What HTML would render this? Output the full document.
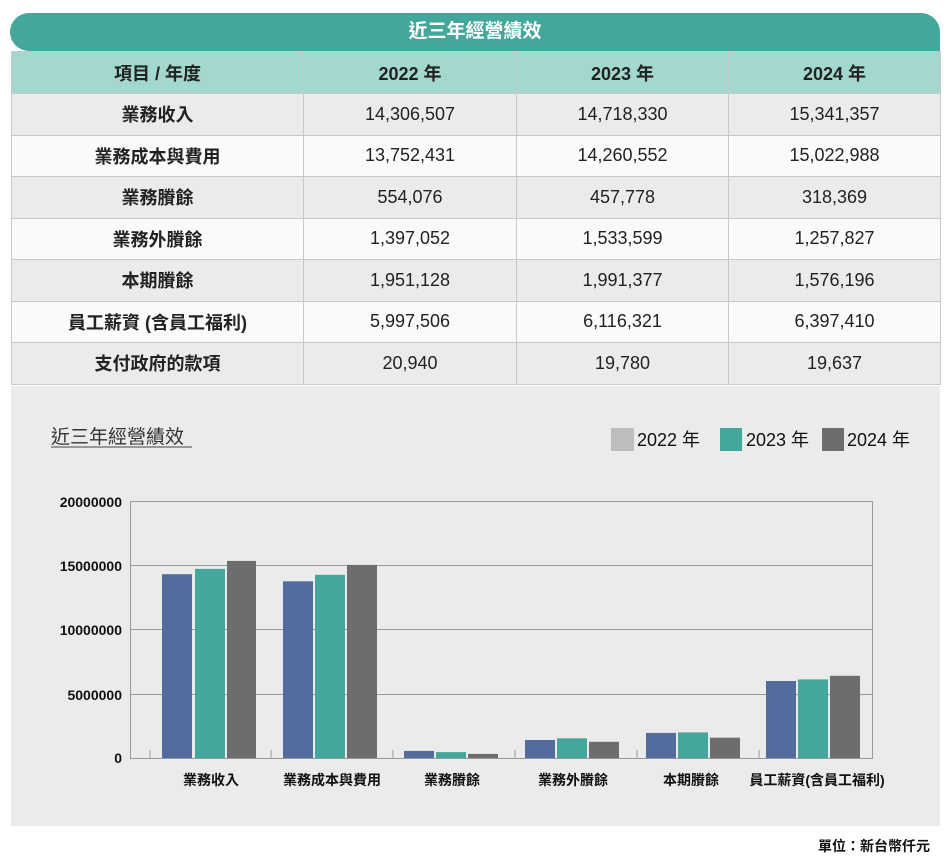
<!DOCTYPE html>
<html><head><meta charset="utf-8"><style>
body{margin:0;width:951px;height:862px;background:#fff;position:relative;font-family:"Liberation Sans","Noto Sans CJK TC",sans-serif;overflow:hidden}
.bar{position:absolute;left:10px;top:13px;width:930px;height:38px;background:#43a89b;border-radius:19px 19px 0 19px;color:#fff;font-size:19px;font-weight:bold;text-align:center;line-height:38px}
table{position:absolute;left:11px;top:51px;border-collapse:collapse;width:929px;table-layout:fixed}
td{border:1px solid #c8c8c8;text-align:center;font-size:18px;color:#222;height:40.5px;padding:0}
tr.h td{background:#a3d8d0;font-weight:bold;height:41px}
tr:nth-child(even) td{background:#ebebeb}
tr:nth-child(odd):not(.h) td{background:#f8fbfa}
td:first-child{font-weight:bold}
</style></head><body>
<div class="bar">近三年經營績效</div>
<table>
<col style="width:292px"><col style="width:213px"><col style="width:212px"><col style="width:212px">
<tr class="h"><td>項目 / 年度</td><td>2022 年</td><td>2023 年</td><td>2024 年</td></tr>
<tr><td>業務收入</td><td>14,306,507</td><td>14,718,330</td><td>15,341,357</td></tr>
<tr><td>業務成本與費用</td><td>13,752,431</td><td>14,260,552</td><td>15,022,988</td></tr>
<tr><td>業務賸餘</td><td>554,076</td><td>457,778</td><td>318,369</td></tr>
<tr><td>業務外賸餘</td><td>1,397,052</td><td>1,533,599</td><td>1,257,827</td></tr>
<tr><td>本期賸餘</td><td>1,951,128</td><td>1,991,377</td><td>1,576,196</td></tr>
<tr><td>員工薪資 (含員工福利)</td><td>5,997,506</td><td>6,116,321</td><td>6,397,410</td></tr>
<tr><td>支付政府的款項</td><td>20,940</td><td>19,780</td><td>19,637</td></tr>
</table>
<svg style="position:absolute;left:0;top:0" width="951" height="862" font-family="Liberation Sans, Noto Sans CJK TC, sans-serif">
<rect x="11" y="386" width="929" height="440" fill="#ebebeb"/>
<text x="51" y="443" font-size="19" fill="#333">近三年經營績效</text>
<line x1="51" y1="447" x2="192" y2="447" stroke="#444" stroke-width="1"/>
<rect x="611" y="428" width="23" height="23" fill="#bdbdbe"/><text x="637" y="446" font-size="18" fill="#111">2022 年</text>
<rect x="720" y="428" width="22" height="23" fill="#43a89b"/><text x="746" y="446" font-size="18" fill="#111">2023 年</text>
<rect x="822" y="428" width="22" height="23" fill="#6d6d6f"/><text x="847" y="446" font-size="18" fill="#111">2024 年</text>
<g stroke="#999" stroke-width="1">
<rect x="130.5" y="501.5" width="742" height="257" fill="none"/>
<line x1="130" y1="565.5" x2="873" y2="565.5"/><line x1="130" y1="629.5" x2="873" y2="629.5"/><line x1="130" y1="694.5" x2="873" y2="694.5"/>
<line x1="150" y1="750" x2="150" y2="758"/><line x1="271" y1="750" x2="271" y2="758"/><line x1="393" y1="750" x2="393" y2="758"/><line x1="515" y1="750" x2="515" y2="758"/><line x1="637" y1="750" x2="637" y2="758"/><line x1="759" y1="750" x2="759" y2="758"/>
</g>
<g font-size="14" fill="#111" text-anchor="end" font-weight="bold">
<text x="122" y="507">20000000</text><text x="122" y="571">15000000</text><text x="122" y="635">10000000</text><text x="122" y="700">5000000</text><text x="122" y="763">0</text>
</g>
<g>
<rect x="162" y="574.2" width="30" height="183.8" fill="#536c9e"/><rect x="195" y="568.9" width="30" height="189.1" fill="#43a89b"/><rect x="227" y="560.9" width="29" height="197.1" fill="#6d6d6f"/>
<rect x="283" y="581.3" width="30" height="176.7" fill="#536c9e"/><rect x="315" y="574.8" width="30" height="183.2" fill="#43a89b"/><rect x="347" y="564.9" width="30" height="193.1" fill="#6d6d6f"/>
<rect x="404" y="750.9" width="30" height="7.1" fill="#536c9e"/><rect x="436" y="752.1" width="30" height="5.9" fill="#43a89b"/><rect x="468" y="753.9" width="30" height="4.1" fill="#6d6d6f"/>
<rect x="525" y="740.0" width="30" height="18" fill="#536c9e"/><rect x="557" y="738.3" width="30" height="19.7" fill="#43a89b"/><rect x="589" y="741.8" width="30" height="16.2" fill="#6d6d6f"/>
<rect x="646" y="732.9" width="30" height="25.1" fill="#536c9e"/><rect x="678" y="732.4" width="30" height="25.6" fill="#43a89b"/><rect x="710" y="737.7" width="30" height="20.3" fill="#6d6d6f"/>
<rect x="766" y="681.0" width="30" height="77" fill="#536c9e"/><rect x="798" y="679.4" width="30" height="78.6" fill="#43a89b"/><rect x="830" y="675.8" width="30" height="82.2" fill="#6d6d6f"/>
</g>
<g font-size="14" fill="#111" text-anchor="middle" font-weight="bold">
<text x="211" y="785">業務收入</text><text x="332" y="785">業務成本與費用</text><text x="452" y="785">業務賸餘</text><text x="573" y="785">業務外賸餘</text><text x="691" y="785">本期賸餘</text><text x="817" y="785">員工薪資(含員工福利)</text>
</g>
<text x="930" y="851" font-size="14" fill="#111" text-anchor="end" font-weight="bold">單位：新台幣仟元</text>
</svg>
</body></html>
